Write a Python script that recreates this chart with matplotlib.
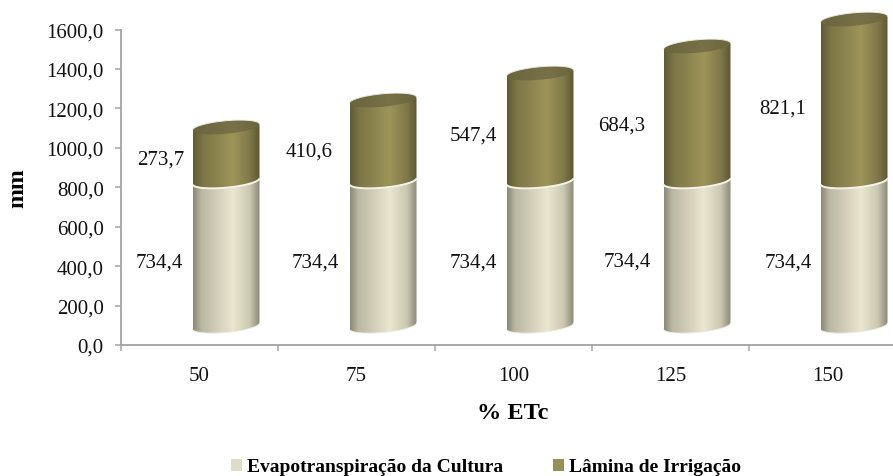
import numpy as np
import matplotlib
matplotlib.use('Agg')
import matplotlib.pyplot as plt
from matplotlib.colors import LinearSegmentedColormap
from matplotlib.patches import Patch, Polygon

plt.rcParams['font.family'] = ['Liberation Serif', 'DejaVu Serif']

# Dados
categorias = ['50', '75', '100', '125', '150']
etc_cultura = [734.4, 734.4, 734.4, 734.4, 734.4]
lamina = [273.7, 410.6, 547.4, 684.3, 821.1]
nome_etc = 'Evapotranspiração da Cultura'
nome_lamina = 'Lâmina de Irrigação'

# Ajustes dos rótulos (pixels, relativos ao centro de cada segmento)
rotulo_etc_dx = [-67, -68, -67, -70, -66]
rotulo_lamina_dx = [-65, -74, -67, -75, -71]
rotulo_etc_dy = [-5, -5, -5, -4, -5]
rotulo_lamina_dy = [-2, -7, -5, -8, -5]

W, H = 893, 477
fig = plt.figure(figsize=(W / 100, H / 100), dpi=100)
ax = fig.add_axes([121 / W, (H - 346) / H, (W - 121) / W, 315.5 / H])

# Escala do eixo em pixels
px_x = 157.0
px_y = 315.5 / 1600
ax.set_xlim(0, (W - 121) / px_x)
ax.set_ylim(0, 1600)

# Geometria do cilindro inclinado
largura = 33.5 / px_x
desvio = 26.5 / px_x
base = 16 / px_y
inclina = 3.0 / px_y
semi_b = 6.5 / px_y

mapa_claro = LinearSegmentedColormap.from_list('claro', [
    (0, '#8b8977'), (0.12, '#bab7a2'), (0.6, '#ebe6d0'), (0.85, '#cbc8b2'), (1, '#8b8977')])
mapa_escuro = LinearSegmentedColormap.from_list('escuro', [
    (0, '#615c37'), (0.15, '#7d7648'), (0.6, '#9d9459'), (0.85, '#7f784a'), (1, '#5d5833')])
mapa_tampa = LinearSegmentedColormap.from_list('tampa', [
    (0, '#6a653f'), (0.6, '#787148'), (1, '#6a653f')])
gradiente = np.linspace(0, 1, 128).reshape(1, -1)


def elipse(cx, y, t):
    # y e a altura da borda esquerda; a elipse sobe para a direita
    yc = y + inclina
    return cx + largura * np.cos(t), yc + inclina * np.cos(t) + semi_b * np.sin(t)


def preenche(contorno, cx, mapa, y0, y1, z):
    im = ax.imshow(gradiente, cmap=mapa, aspect='auto', zorder=z, interpolation='bilinear',
                   extent=[cx - largura, cx + largura, y0, y1])
    forma = Polygon(contorno, closed=True, transform=ax.transData, fill=False, edgecolor='none', clip_on=False)
    ax.add_patch(forma)
    # o ultimo cilindro passa do topo do eixo
    im.set_clip_path(forma)
    im.set_clip_box(fig.bbox)


frente = np.linspace(np.pi, 2 * np.pi, 60)
volta = np.linspace(0, 2 * np.pi, 120)
tras = np.linspace(0, np.pi, 60)

for i, (v1, v2) in enumerate(zip(etc_cultura, lamina)):
    cx = i + 0.5 + desvio
    y_base = base
    y_meio = base + v1
    y_topo = base + v1 + v2

    # Segmento inferior
    xb, yb = elipse(cx, y_base, frente)
    xm, ym = elipse(cx, y_meio, frente)
    corpo = np.column_stack([np.r_[xb, xm[::-1]], np.r_[yb, ym[::-1]]])
    preenche(corpo, cx, mapa_claro, y_base - 2 * semi_b, y_meio + 3 * inclina, 2)

    # Segmento superior
    xt, yt = elipse(cx, y_topo, tras)
    corpo2 = np.column_stack([np.r_[xm, xt], np.r_[ym, yt]])
    preenche(corpo2, cx, mapa_escuro, y_meio - 2 * semi_b, y_topo + 2 * semi_b + 3 * inclina, 3)

    # Tampa
    xc, yc = elipse(cx, y_topo, volta)
    preenche(np.column_stack([xc, yc]), cx, mapa_tampa, y_topo - 2 * semi_b,
             y_topo + 2 * semi_b + 3 * inclina, 4)

    # Filetes claros
    ax.plot(xm, ym, color='#f4f3ea', lw=1.4, zorder=5, solid_capstyle='butt', clip_on=False)
    ax.plot(xt, yt, color='#eeeee6', lw=0.7, zorder=5, clip_on=False)
    ax.plot(xb, yb, color='#eeeee6', lw=0.7, zorder=5)

    # Valores
    ax.annotate(f'{v1:.1f}'.replace('.', ','), xy=(cx, base + v1 / 2),
                xytext=(rotulo_etc_dx[i], rotulo_etc_dy[i]), textcoords='offset pixels',
                ha='center', va='center', fontsize=15, color='#111111', zorder=6)
    ax.annotate(f'{v2:.1f}'.replace('.', ','), xy=(cx, y_meio + v2 / 2),
                xytext=(rotulo_lamina_dx[i], rotulo_lamina_dy[i]), textcoords='offset pixels',
                ha='center', va='center', fontsize=15, color='#111111', zorder=6)

ax.set_xlim(0, (W - 121) / px_x)
ax.set_ylim(0, 1600)

# Eixos
for lado in ['top', 'right']:
    ax.spines[lado].set_visible(False)
for lado in ['left', 'bottom']:
    ax.spines[lado].set_color('#a3a3a3')
    ax.spines[lado].set_linewidth(1.3)

ax.set_yticks(np.arange(0, 1601, 200))
ax.set_yticklabels([f'{v:.1f}'.replace('.', ',') for v in np.arange(0, 1601, 200)], fontsize=15, color='#111111')
ax.tick_params(axis='y', length=4.5, width=1.1, color='#a3a3a3', pad=8)

ax.set_xticks(np.arange(len(categorias)) + 0.5)
ax.set_xticklabels(categorias, fontsize=15, color='#111111')
ax.set_xticks(np.arange(0, len(categorias)), minor=True)
ax.tick_params(axis='x', which='major', length=0, pad=15)
ax.tick_params(axis='x', which='minor', length=4.5, width=1.1, color='#a3a3a3')

fig.text(18 / W, 1 - 188 / H, 'mm', rotation=90, ha='center', va='center', fontsize=17, fontweight='bold')
fig.text(513 / W, 1 - 414 / H, '% ETc', ha='center', va='center', fontsize=17.5, fontweight='bold')

# Legenda
itens = [Patch(facecolor='#dfdcc8', label=nome_etc), Patch(facecolor='#98905c', label=nome_lamina)]
fig.legend(handles=itens, loc='center', bbox_to_anchor=(486 / W, 1 - 468 / H), ncols=2, frameon=False,
           prop={'size': 14, 'weight': 'bold'}, handlelength=0.57, handleheight=0.57,
           handletextpad=0.25, columnspacing=2.6)

fig.savefig('out.png', dpi=100)
